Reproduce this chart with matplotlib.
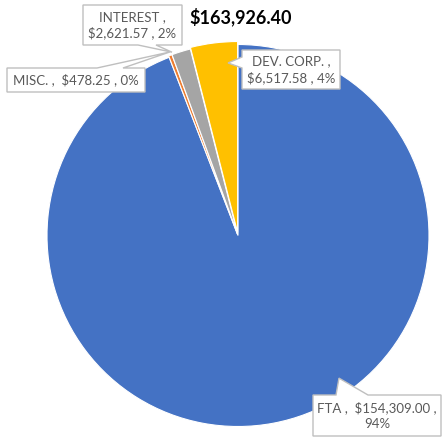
import matplotlib
matplotlib.use('Agg')
import matplotlib.pyplot as plt
from matplotlib.patches import Polygon
import numpy as np

plt.rcParams['font.family'] = ['Lato', 'DejaVu Sans']

# data
categories = ['FTA', 'MISC.', 'INTEREST', 'DEV. CORP.']
amounts = [154309.00, 478.25, 2621.57, 6517.58]
colors = ['#4472C4', '#ED7D31', '#A5A5A5', '#FFC000']
explode = [0, 1.5, 1.5, 3]

W, H = 442, 437
CX, CY, R = 238, 235.5, 191   # pie centre / radius, image pixels (y down)

# label layout: box (x0, y0, x1, y1) in image pixels, separator between name and value
# pointer base on one edge and tip as (angle deg, radius fraction)
label_layout = {
    'FTA': dict(box=(313, 395, 441, 436), sep=' ,  ', brk_after_value=True,
                edge='top', base=(336, 368), tip=(-54.7, 0.915)),
    'MISC.': dict(box=(7, 68, 145, 92), sep=' ,  ', brk_after_value=False,
                  edge='top', base=(97, 123), tip=(110.4, 1.025)),
    'INTEREST': dict(box=(83, 5, 182, 45), sep=' ,\n', brk_after_value=False,
                     edge='bottom', base=(138, 156), tip=(109.8, 1.02)),
    'DEV. CORP.': dict(box=(242, 50, 340, 89), sep=' ,\n', brk_after_value=False,
                       edge='left', base=(57, 68), tip=(93.3, 0.905)),
}


def flip(y):
    return H - y


fig = plt.figure(figsize=(W / 100, H / 100), dpi=100)
ax = fig.add_axes([0, 0, 1, 1])

ax.pie(amounts, colors=colors, explode=explode, startangle=90, counterclock=False,
       center=(CX, flip(CY)), radius=R, frame=True,
       wedgeprops=dict(edgecolor='white', linewidth=0.8))
ax.set_xlim(0, W)
ax.set_ylim(0, H)
ax.set_axis_off()

total = sum(amounts)
for name, val in zip(categories, amounts):
    lay = label_layout[name]
    pct = val / total * 100
    if lay['brk_after_value']:
        txt = f"{name}{lay['sep']}${val:,.2f} ,\n{pct:.0f}%"
    else:
        txt = f"{name}{lay['sep']}${val:,.2f} , {pct:.0f}%"

    x0, y0, x1, y1 = lay['box']
    ang, rf = lay['tip']
    tx = CX + R * rf * np.cos(np.radians(ang))
    ty = CY - R * rf * np.sin(np.radians(ang))
    b0, b1 = lay['base']
    if lay['edge'] == 'top':
        pts = [(x0, y0), (b0, y0), (tx, ty), (b1, y0), (x1, y0), (x1, y1), (x0, y1)]
    elif lay['edge'] == 'bottom':
        pts = [(x0, y0), (x1, y0), (x1, y1), (b1, y1), (tx, ty), (b0, y1), (x0, y1)]
    else:
        pts = [(x0, y0), (x1, y0), (x1, y1), (x0, y1), (x0, b1), (tx, ty), (x0, b0)]
    pts = [(px, flip(py)) for px, py in pts]
    ax.add_patch(Polygon(pts, closed=True, facecolor='white', edgecolor='#BFBFBF',
                         linewidth=1.0, zorder=5))
    ax.text((x0 + x1) / 2, flip((y0 + y1) / 2), txt, ha='center', va='center',
            fontsize=9.5, color='#595959', linespacing=1.35, zorder=6)

ax.text(241, flip(17), f"${total:,.2f}", ha='center', va='center',
        fontsize=13, fontweight='bold', color='black')

fig.savefig('out.png', dpi=100)
